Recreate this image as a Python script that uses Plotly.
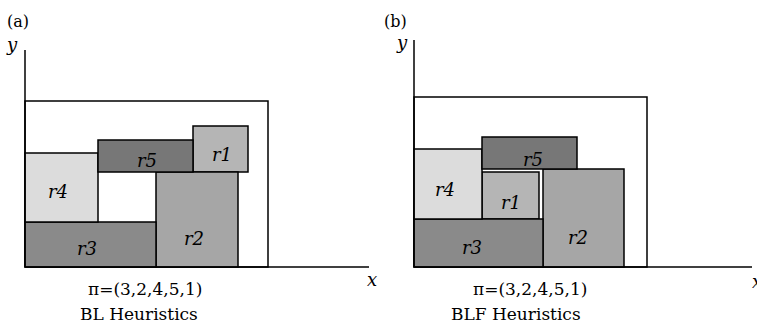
import plotly.graph_objects as go

# ---- data (units: layout units measured from each panel's origin, x right, y up)
rect_names = ["r1", "r2", "r3", "r4", "r5"]
rect_colors = ["#b5b5b5", "#a6a6a6", "#8a8a8a", "#dcdcdc", "#777777"]

# Panel (a): BL heuristics
a_x0 = [168, 131, 0, 0, 73]
a_x1 = [223, 213, 131, 73, 168]
a_y0 = [95, 0, 0, 45, 95]
a_y1 = [141, 95, 45, 114, 127]
a_lab_x = [197, 169, 62, 33, 122]
a_lab_y = [113, 29, 19, 76, 107]
a_container = [243, 166]       # width, height of the strip
a_axis_len = [344, 217]        # x-axis length, y-axis length

# Panel (b): BLF heuristics
b_x0 = [68, 129, 0, 0, 68]
b_x1 = [125, 210, 129, 68, 163]
b_y0 = [48, 0, 0, 48, 98]
b_y1 = [95, 98, 48, 118, 130]
b_lab_x = [97, 164, 58, 31, 119]
b_lab_y = [65, 30, 20, 78, 108]
b_container = [233, 170]
b_axis_len = [338, 227]

sequence_label = "π=(3,2,4,5,1)"
titles = ["BL Heuristics", "BLF Heuristics"]
panel_tags = ["(a)", "(b)"]

W, H = 757, 325
FONT = "'DejaVu Serif', 'Liberation Serif', serif"

fig = go.Figure()
fig.add_trace(go.Scatter(x=[0], y=[0], xaxis="x", yaxis="y", mode="markers",
                         marker=dict(opacity=0), hoverinfo="skip", showlegend=False))
fig.add_trace(go.Scatter(x=[0], y=[0], xaxis="x2", yaxis="y2", mode="markers",
                         marker=dict(opacity=0), hoverinfo="skip", showlegend=False))

shapes = []
annotations = []

panels = [
    dict(xr="x", yr="y", x0=a_x0, x1=a_x1, y0=a_y0, y1=a_y1, lx=a_lab_x, ly=a_lab_y,
         cont=a_container, ax=a_axis_len, tag=panel_tags[0], title=titles[0],
         tag_pos=(-7, 246), ylab=(-13, 223), xlab=(347, -12), seq=(120, -22), tit=(114, -47)),
    dict(xr="x2", yr="y2", x0=b_x0, x1=b_x1, y0=b_y0, y1=b_y1, lx=b_lab_x, ly=b_lab_y,
         cont=b_container, ax=b_axis_len, tag=panel_tags[1], title=titles[1],
         tag_pos=(-19, 246), ylab=(-12, 225), xlab=(343, -14), seq=(116, -22), tit=(102, -47)),
]

LW = 1.5
for p in panels:
    xr, yr = p["xr"], p["yr"]
    # container strip
    shapes.append(dict(type="rect", xref=xr, yref=yr, x0=0, x1=p["cont"][0], y0=0, y1=p["cont"][1],
                       line=dict(color="black", width=LW), fillcolor="rgba(0,0,0,0)", layer="above"))
    # rectangles
    for i, name in enumerate(rect_names):
        shapes.append(dict(type="rect", xref=xr, yref=yr, x0=p["x0"][i], x1=p["x1"][i],
                           y0=p["y0"][i], y1=p["y1"][i],
                           line=dict(color="black", width=LW), fillcolor=rect_colors[i], layer="above"))
        annotations.append(dict(xref=xr, yref=yr, x=p["lx"][i], y=p["ly"][i],
                                text="<i>" + name + "</i>", showarrow=False,
                                font=dict(family=FONT, size=18, color="black")))
    # axes lines
    shapes.append(dict(type="line", xref=xr, yref=yr, x0=0, x1=p["ax"][0], y0=0, y1=0,
                       line=dict(color="black", width=LW), layer="above"))
    shapes.append(dict(type="line", xref=xr, yref=yr, x0=0, x1=0, y0=0, y1=p["ax"][1],
                       line=dict(color="black", width=LW), layer="above"))
    annotations.append(dict(xref=xr, yref=yr, x=p["tag_pos"][0], y=p["tag_pos"][1], text=p["tag"],
                            showarrow=False, font=dict(family=FONT, size=16, color="black")))
    annotations.append(dict(xref=xr, yref=yr, x=p["ylab"][0], y=p["ylab"][1], text="<i>y</i>",
                            showarrow=False, font=dict(family=FONT, size=18, color="black")))
    annotations.append(dict(xref=xr, yref=yr, x=p["xlab"][0], y=p["xlab"][1], text="<i>x</i>",
                            showarrow=False, font=dict(family=FONT, size=18, color="black")))
    annotations.append(dict(xref=xr, yref=yr, x=p["seq"][0], y=p["seq"][1], text=sequence_label,
                            showarrow=False, font=dict(family=FONT, size=17, color="black")))
    annotations.append(dict(xref=xr, yref=yr, x=p["tit"][0], y=p["tit"][1], text=p["title"],
                            showarrow=False, font=dict(family=FONT, size=17, color="black")))

split = 380 / W
fig.update_layout(
    width=W, height=H,
    margin=dict(l=0, r=0, t=0, b=0),
    paper_bgcolor="white", plot_bgcolor="white",
    showlegend=False,
    shapes=shapes, annotations=annotations,
    xaxis=dict(domain=[0, split], range=[-25, 355], visible=False, fixedrange=True),
    yaxis=dict(domain=[0, 1], range=[-58, 267], visible=False, fixedrange=True),
    xaxis2=dict(domain=[split, 1], range=[-34, 343], visible=False, fixedrange=True),
    yaxis2=dict(domain=[0, 1], range=[-58, 267], visible=False, fixedrange=True, anchor="x2"),
)

fig.write_html("out.html", config={"displayModeBar": False})
